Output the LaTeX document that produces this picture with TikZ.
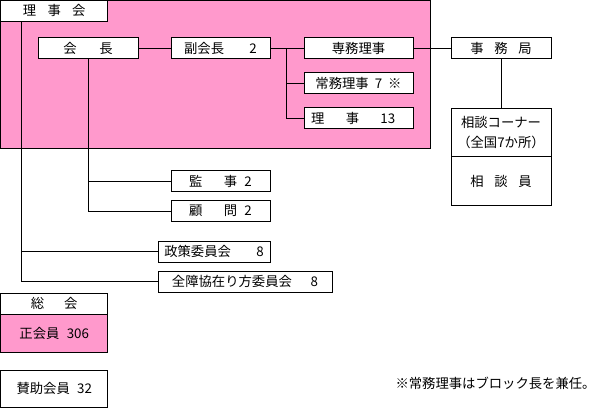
\documentclass[tikz,border=0pt]{standalone}
\usepackage{fontspec}
\setmainfont{Noto Sans CJK JP}
\usepackage{xcolor}
\definecolor{boardpink}{RGB}{255,153,204}

\begin{document}
\begin{tikzpicture}[
				x=0.75pt, y=-0.75pt,
				line width=0.75pt,
				font=\fontsize{10pt}{15pt}\selectfont,
				orgbox/.style = {draw, fill=white, inner sep=0pt, minimum height=15.75pt, align=center},
				pinkbox/.style = {orgbox, fill=boardpink}
				]
				\useasboundingbox (0,0) rectangle (604,410);
				
				% board frame
				\filldraw[fill=boardpink] (0.5,0.5) rectangle (430,149);
				
				\node[orgbox, minimum width=80.6pt] (rijikai) at (54.25,10.75) {理\hspace{0.85em}事\hspace{0.85em}会};
				\node[orgbox, minimum width=75pt] (kaicho) at (88,48.5) {会\hspace{1.7em}長};
				\node[orgbox, minimum width=74.25pt] (fukukaicho) at (220.5,48.5) {副会長\hspace{1.9em}2};
				\node[orgbox, minimum width=81.75pt] (senmu) at (358.5,48.5) {専務理事};
				\node[orgbox, minimum width=81.75pt] (jomu) at (358.5,83.5) {常務理事\hspace{0.45em}7\hspace{0.45em}※};
				\node[orgbox, minimum width=81.75pt] (riji) at (358.5,118.5) {理\hspace{1.6em}事\hspace{1.6em}13\hspace{0.8em}};
				\node[orgbox, minimum width=75pt] (jimukyoku) at (501,48.5) {事\hspace{0.8em}務\hspace{0.8em}局};
				\node[orgbox, minimum width=75pt, minimum height=36pt] (sodan) at (501,133) {相談コーナー\\（全国7か所）};
				\node[orgbox, minimum width=75pt, minimum height=36pt] (sodanin) at (501,181) {相\hspace{0.8em}談\hspace{0.8em}員};
				\node[orgbox, minimum width=74.25pt] (kanji) at (220.5,181) {監\hspace{1.6em}事\hspace{0.55em}2};
				\node[orgbox, minimum width=74.25pt] (komon) at (220.5,211) {顧\hspace{1.6em}問\hspace{0.55em}2};
				\node[orgbox, minimum width=84pt] (seisaku) at (214,251.5) {政策委員会\hspace{1.9em}8};
				\node[orgbox, minimum width=130.5pt] (zensho) at (245,281.5) {全障協在り方委員会\hspace{1.4em}8};
				
				\node[orgbox, minimum width=80.6pt] (sokai) at (54.25,303.5) {総\hspace{1.5em}会};
				\node[pinkbox, minimum width=80.6pt, minimum height=28.5pt] (seikaiin) at (54.25,333) {正会員\hspace{0.55em}306};
				\node[orgbox, minimum width=80.6pt, minimum height=27.75pt] (sanjo) at (54.25,388.5) {賛助会員\hspace{0.55em}32};
				
				\node[anchor=east, inner sep=0pt] (note) at (596,383) {※常務理事はブロック長を兼任。};
				
				\coordinate (fork) at (286,48.5);
				
				\draw ([xshift=15.75pt]rijikai.south west) |- (seisaku.west);
				\draw ([xshift=15.75pt]rijikai.south west) |- (zensho.west);
				\draw (kaicho.south) |- (kanji.west);
				\draw (kaicho.south) |- (komon.west);
				\draw (kaicho) -- (fukukaicho);
				\draw (fukukaicho) -- (senmu);
				\draw (fork) |- (jomu.west);
				\draw (fork) |- (riji.west);
				\draw (senmu) -- (jimukyoku);
				\draw (jimukyoku) -- (sodan);
			\end{tikzpicture}
\end{document}
